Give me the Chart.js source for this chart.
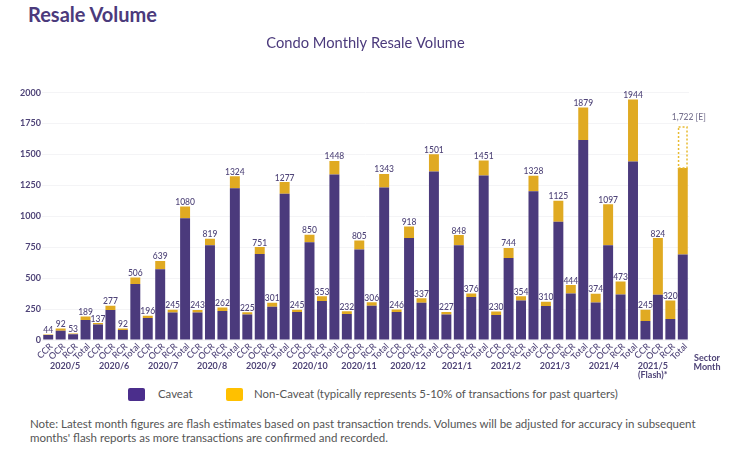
<!DOCTYPE html>
<html>
<head>
<meta charset="utf-8">
<title>Resale Volume</title>
<script src="https://cdn.jsdelivr.net/npm/chart.js@4"></script>
<style>
    body { margin: 0; background: #fff; font-family: Lato, sans-serif; }
    #page { position: relative; width: 750px; height: 456px; overflow: hidden; }
    #heading { position: absolute; left: 28px; top: 2px; font-size: 20px; font-weight: 700; color: #4b3a7c; }
    #note { position: absolute; left: 30px; top: 417px; width: 700px; font-size: 11.5px; line-height: 14px; color: #555; }
    canvas { position: absolute; left: 0; top: 0; }
    .legend-item { position: absolute; top: 386px; font-size: 11.4px; line-height: 16px; color: #555; white-space: nowrap; }
    .legend-box { position: absolute; top: 2px; left: -30px; width: 17px; height: 13px; border-radius: 2px; }
</style>
</head>
<body>
<div id="page">
    <div id="heading">Resale Volume</div>
    <canvas id="resaleChart" width="750" height="385"></canvas>
    <div class="legend-item" style="left: 158px"><span class="legend-box" style="background: #4b2e8c"></span>Caveat</div>
    <div class="legend-item" style="left: 254px"><span class="legend-box" style="left: -28px; background: #ffc000"></span>Non-Caveat (typically represents 5-10% of transactions for past quarters)</div>
    <div id="note">Note: Latest month figures are flash estimates based on past transaction trends. Volumes will be adjusted for accuracy in subsequent<br>months' flash reports as more transactions are confirmed and recorded.</div>
</div>
<script>
// Data
const sectors = ['CCR', 'OCR', 'RCR', 'Total'];
const months = ['2020/5', '2020/6', '2020/7', '2020/8', '2020/9', '2020/10', '2020/11', '2020/12', '2021/1', '2021/2', '2021/3', '2021/4', ['2021/5', '(Flash)*']];

const caveat = [
    40, 75, 46, 161,
    126, 242, 81, 452,
    177, 573, 223, 984,
    223, 766, 234, 1226,
    207, 696, 269, 1183,
    226, 790, 315, 1339,
    210, 731, 277, 1234,
    226, 825, 301, 1363,
    207, 766, 347, 1331,
    202, 664, 320, 1202,
    274, 957, 376, 1618,
    304, 766, 368, 1443,
    153, 366, 169, 691
];
const nonCaveat = [
    4, 17, 7, 28,
    11, 35, 11, 54,
    19, 66, 22, 96,
    20, 53, 28, 98,
    18, 55, 32, 94,
    19, 60, 38, 109,
    22, 74, 29, 109,
    20, 93, 36, 138,
    20, 82, 29, 120,
    28, 80, 34, 126,
    36, 168, 68, 261,
    70, 331, 105, 501,
    92, 458, 151, 699
];
// only the last bar has an estimated part (dotted box)
const estimated = [
    null, null, null, null, null, null, null, null, null, null, null, null, null,
    null, null, null, null, null, null, null, null, null, null, null, null, null,
    null, null, null, null, null, null, null, null, null, null, null, null, null,
    null, null, null, null, null, null, null, null, null, null, null, null, 332
];
const totalLabels = [
    '44', '92', '53', '189',
    '137', '277', '92', '506',
    '196', '639', '245', '1080',
    '243', '819', '262', '1324',
    '225', '751', '301', '1277',
    '245', '850', '353', '1448',
    '232', '805', '306', '1343',
    '246', '918', '337', '1501',
    '227', '848', '376', '1451',
    '230', '744', '354', '1328',
    '310', '1125', '444', '1879',
    '374', '1097', '473', '1944',
    '245', '824', '320', '1,722 [E]'
];
const yTicks = [0, 250, 500, 750, 1000, 1250, 1500, 1750, 2000];
const categories = months.flatMap(() => sectors);

const PURPLE = '#4b3a7c';
const GOLD = '#e0aa22';
const LABEL_COLOR = '#4f4478';

// Totals above the bars, dotted box, month row
const annotationsPlugin = {
    id: 'annotations',
    afterDatasetsDraw(chart) {
        const ctx = chart.ctx;
        const x = chart.scales.x;
        const bottom = chart.chartArea.bottom;
        ctx.save();

        // dotted outline of the estimated part
        const box = chart.getDatasetMeta(2).data[categories.length - 1];
        ctx.strokeStyle = '#e8bb30';
        ctx.lineWidth = 1.5;
        ctx.setLineDash([2, 2]);
        ctx.strokeRect(box.x - box.width / 2 + 0.75, box.y, box.width - 1.5, box.base - box.y);
        ctx.setLineDash([]);

        // values over each stack
        ctx.textAlign = 'center';
        ctx.textBaseline = 'bottom';
        ctx.font = '500 8.5px Lato';
        totalLabels.forEach((label, i) => {
            const last = i === categories.length - 1;
            const top = last ? box : chart.getDatasetMeta(1).data[i];
            ctx.fillStyle = last ? '#77728f' : LABEL_COLOR;
            ctx.fillText(label, top.x + (last ? 6 : 0), top.y - (last ? 6 : 0));
        });

        // month row under the sector names
        ctx.fillStyle = LABEL_COLOR;
        ctx.font = '700 9px Lato';
        ctx.textBaseline = 'middle';
        months.forEach((month, i) => {
            const mid = x.getPixelForValue(4 * i + 1.5) - 1.7 - i * 0.8;
            [].concat(month).forEach((line, n) => {
                ctx.fillText(line, mid, bottom + 26 + n * 9.5);
            });
        });
        ctx.fillText('Sector', x.right + 18, bottom + 18);
        ctx.fillText('Month', x.right + 18, bottom + 27);
        ctx.restore();
    }
};

new Chart(document.getElementById('resaleChart'), {
    type: 'bar',
    data: {
        labels: categories,
        datasets: [
            { label: 'Caveat', data: caveat, backgroundColor: PURPLE, stack: 's' },
            { label: 'Non-Caveat', data: nonCaveat, backgroundColor: GOLD, stack: 's' },
            { label: 'Estimate', data: estimated, backgroundColor: 'transparent', stack: 's' }
        ]
    },
    options: {
        responsive: false,
        animation: false,
        layout: { padding: { top: 34 } },
        datasets: { bar: { categoryPercentage: 1, barPercentage: 0.8 } },
        plugins: {
            title: {
                display: true,
                fullSize: false,
                text: 'Condo Monthly Resale Volume',
                color: '#4b3a7c',
                font: { family: 'Lato', size: 14.7, weight: '400' },
                padding: { top: 0, bottom: 41 }
            },
            legend: { display: false },
            tooltip: { enabled: false }
        },
        scales: {
            x: {
                stacked: true,
                grid: { display: false, drawTicks: false },
                border: { display: false },
                ticks: {
                    autoSkip: false,
                    minRotation: 45,
                    maxRotation: 45,
                    padding: 1,
                    labelOffset: 3,
                    color: LABEL_COLOR,
                    font: { family: 'Lato', size: 9, weight: '500' }
                },
                afterFit(scale) { scale.height = 45; }
            },
            y: {
                stacked: true,
                min: 0,
                max: 2000,
                afterBuildTicks(scale) { scale.ticks = yTicks.map(v => ({ value: v })); },
                afterFit(scale) { scale.width = 42; },
                grid: { color: '#f4f4f6', drawTicks: false },
                border: { display: false },
                ticks: {
                    padding: 1,
                    color: LABEL_COLOR,
                    font: { family: 'Lato', size: 9, weight: '700' },
                    callback: v => String(v)
                }
            },
            // empty axis, keeps the room on the right for "Sector / Month"
            spacer: {
                position: 'right',
                grid: { display: false },
                border: { display: false },
                ticks: { display: false },
                afterFit(scale) { scale.width = 61; }
            }
        }
    },
    plugins: [annotationsPlugin]
});
</script>
</body>
</html>
